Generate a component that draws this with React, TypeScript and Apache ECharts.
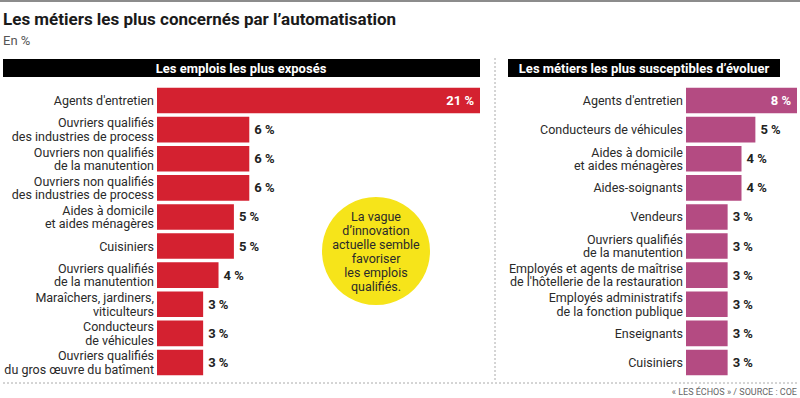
import React, { useEffect, useRef } from "react";
import * as echarts from "echarts";

const leftCategories = [
  "Agents d'entretien",
  "Ouvriers qualifiés\ndes industries de process",
  "Ouvriers non qualifiés\nde la manutention",
  "Ouvriers non qualifiés\ndes industries de process",
  "Aides à domicile\net aides ménagères",
  "Cuisiniers",
  "Ouvriers qualifiés\nde la manutention",
  "Maraîchers, jardiners,\nviticulteurs",
  "Conducteurs\nde véhicules",
  "Ouvriers qualifiés\ndu gros œuvre du batîment",
];
const leftValues = [21, 6, 6, 6, 5, 5, 4, 3, 3, 3];

const rightCategories = [
  "Agents d'entretien",
  "Conducteurs de véhicules",
  "Aides à domicile\net aides ménagères",
  "Aides-soignants",
  "Vendeurs",
  "Ouvriers qualifiés\nde la manutention",
  "Employés et agents de maîtrise\nde l'hôtellerie de la restauration",
  "Employés administratifs\nde la fonction publique",
  "Enseignants",
  "Cuisiniers",
];
const rightValues = [8, 5, 4, 4, 3, 3, 3, 3, 3, 3];

const FONT = "Roboto, 'Noto Sans', sans-serif";

export default function App() {
  const ref = useRef<HTMLDivElement>(null);
  useEffect(() => {
    if (!ref.current) return;
    const chart = echarts.init(ref.current, null, { renderer: "svg" });
    const mkData = (vals: number[], max: number) =>
      vals.map((v) =>
        v === max
          ? { value: v, label: { position: "insideRight", color: "#fff", distance: 6 } }
          : { value: v }
      );
    const yAxisCommon = {
      type: "category",
      inverse: true,
      axisLine: { show: false },
      axisTick: { show: false },
      axisLabel: {
        margin: 3,
        color: "#2a2a2a",
        fontSize: 12.5,
        lineHeight: 13.5,
        fontFamily: FONT,
      },
    };
    const labelCommon = {
      show: true,
      position: "right",
      distance: 5,
      formatter: "{c} %",
      color: "#222",
      fontWeight: "bold",
      fontSize: 13,
      fontFamily: FONT,
    };
    chart.setOption({
      animation: false,
      backgroundColor: "#fff",
      textStyle: { fontFamily: FONT },
      grid: [
        { left: 157, width: 323, top: 86, height: 291, outerBoundsMode: "none", containLabel: false },
        { left: 686, width: 111, top: 86, height: 291, outerBoundsMode: "none", containLabel: false },
      ],
      xAxis: [
        { type: "value", gridIndex: 0, min: 0, max: 21, show: false },
        { type: "value", gridIndex: 1, min: 0, max: 8, show: false },
      ],
      yAxis: [
        { ...yAxisCommon, gridIndex: 0, data: leftCategories },
        { ...yAxisCommon, gridIndex: 1, data: rightCategories },
      ],
      series: [
        {
          type: "bar",
          xAxisIndex: 0,
          yAxisIndex: 0,
          data: mkData(leftValues, 21),
          barCategoryGap: "12%",
          itemStyle: { color: "#d42130" },
          label: labelCommon,
        },
        {
          type: "bar",
          xAxisIndex: 1,
          yAxisIndex: 1,
          data: mkData(rightValues, 8),
          barCategoryGap: "12%",
          itemStyle: { color: "#b44b82" },
          label: labelCommon,
        },
      ],
      graphic: [
        { type: "line", shape: { x1: 0, y1: 1, x2: 800, y2: 1 }, style: { stroke: "#666", lineWidth: 1.5 } },
        {
          type: "text",
          left: 3,
          top: 10,
          style: { text: "Les métiers les plus concernés par l’automatisation", fontSize: 17, fontWeight: "bold", fill: "#1a1a1a", fontFamily: FONT },
        },
        {
          type: "text",
          left: 3,
          top: 34,
          style: { text: "En %", fontSize: 13, fill: "#555", fontFamily: FONT },
        },
        { type: "rect", shape: { x: 3, y: 59, width: 477, height: 18 }, style: { fill: "#000" } },
        {
          type: "text",
          x: 241,
          y: 68,
          style: { text: "Les emplois les plus exposés", fontSize: 13, fontWeight: "bold", fill: "#fff", align: "center", verticalAlign: "middle", fontFamily: FONT },
        },
        { type: "rect", shape: { x: 508, y: 59, width: 272, height: 18 }, style: { fill: "#000" } },
        {
          type: "text",
          x: 644,
          y: 68,
          style: { text: "Les métiers les plus susceptibles d’évoluer", fontSize: 13, fontWeight: "bold", fill: "#fff", align: "center", verticalAlign: "middle", fontFamily: FONT },
        },
        { type: "line", shape: { x1: 495, y1: 58, x2: 495, y2: 382 }, style: { stroke: "#aaa", lineWidth: 1, lineDash: [2, 2] } },
        { type: "line", shape: { x1: 3, y1: 383, x2: 797, y2: 383 }, style: { stroke: "#aaa", lineWidth: 1, lineDash: [2, 2] } },
        { type: "circle", shape: { cx: 376, cy: 251, r: 54 }, style: { fill: "#f6e41a" } },
        {
          type: "text",
          x: 376,
          y: 251,
          style: {
            text: "La vague\nd’innovation\nactuelle semble\nfavoriser\nles emplois\nqualifiés.",
            fontSize: 12.5,
            lineHeight: 14,
            fill: "#2a2a2a",
            align: "center",
            verticalAlign: "middle",
            fontFamily: FONT,
          },
        },
        {
          type: "text",
          x: 797,
          y: 392,
          style: { text: "« LES ÉCHOS » / SOURCE : COE", fontSize: 9, fill: "#666", align: "right", verticalAlign: "middle", fontFamily: FONT },
        },
      ],
    });
    return () => chart.dispose();
  }, []);
  return (
    <div
      ref={ref}
      style={{ position: "fixed", left: 0, top: 0, width: 800, height: 398 }}
    />
  );
}
